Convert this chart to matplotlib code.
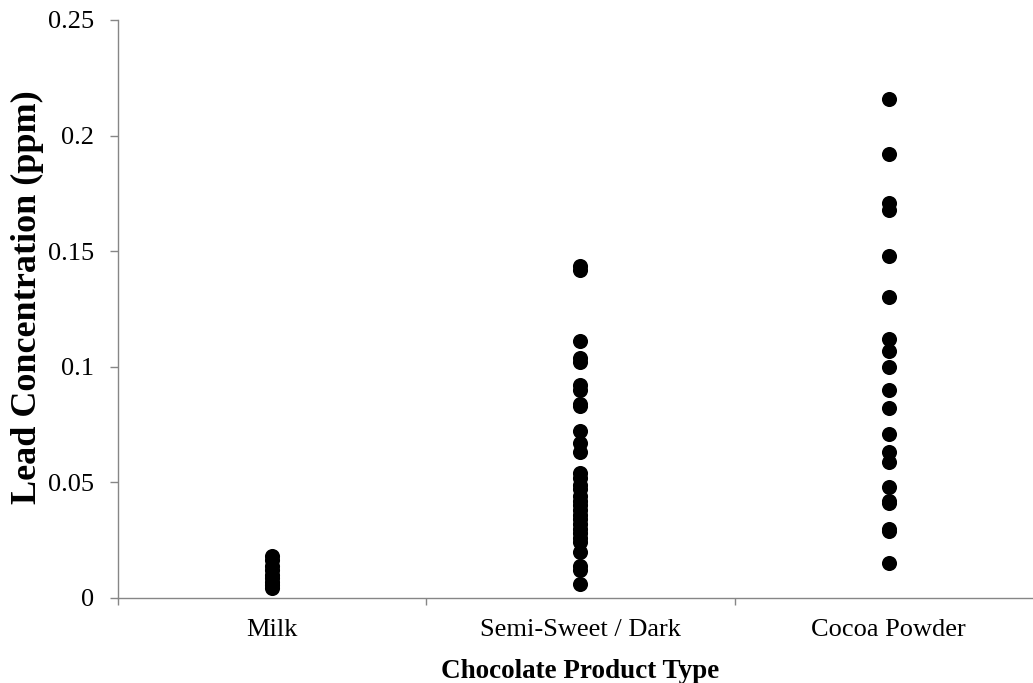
import matplotlib
matplotlib.use('Agg')
import matplotlib.pyplot as plt

categories = ['Milk', 'Semi-Sweet / Dark', 'Cocoa Powder']

milk = [0.018, 0.0165, 0.014, 0.012, 0.010, 0.0085, 0.007, 0.0055, 0.0045]
semi_sweet = [0.1435, 0.142, 0.111, 0.104, 0.102, 0.092, 0.090, 0.084, 0.083,
              0.072, 0.067, 0.063, 0.054, 0.052, 0.049, 0.047, 0.044, 0.042,
              0.040, 0.038, 0.036, 0.034, 0.032, 0.030, 0.028, 0.026, 0.024,
              0.020, 0.014, 0.012, 0.006]
cocoa = [0.216, 0.192, 0.171, 0.168, 0.148, 0.130, 0.112, 0.107, 0.100,
         0.090, 0.082, 0.071, 0.063, 0.059, 0.048, 0.042, 0.041, 0.030,
         0.029, 0.015]

series = [milk, semi_sweet, cocoa]
yticks = [0, 0.05, 0.1, 0.15, 0.2, 0.25]
ytick_labels = ['0', '0.05', '0.1', '0.15', '0.2', '0.25']

plt.rcParams['font.family'] = ['Liberation Serif', 'DejaVu Serif']
plt.rcParams['font.size'] = 19

fig = plt.figure(figsize=(10.33, 6.83), dpi=100)
ax = fig.add_axes([0.1142, 0.1245, 0.8955, 0.8463])

for i, vals in enumerate(series):
    ax.scatter([i + 1] * len(vals), vals, s=118, color='black', linewidths=0, zorder=3)

ax.set_xlim(0.5, 3.5)
ax.set_ylim(0, 0.25)
ax.set_xticks([1, 2, 3])
ax.set_xticklabels(categories)
ax.set_xticks([0.5, 1.5, 2.5, 3.5], minor=True)
ax.tick_params(axis='x', which='major', length=0, pad=15, labelsize=19)
ax.tick_params(axis='x', which='minor', length=5, color='#868686', width=1)
ax.set_yticks(yticks)
ax.set_yticklabels(ytick_labels)
ax.tick_params(axis='y', length=6, color='#868686', width=1, pad=11, labelsize=19)

for side in ['top', 'right']:
    ax.spines[side].set_visible(False)
for side in ['left', 'bottom']:
    ax.spines[side].set_color('#868686')
    ax.spines[side].set_linewidth(1)

ax.set_xlabel('Chocolate Product Type', fontsize=19.5, fontweight='bold', labelpad=13)
ax.set_ylabel('Lead Concentration (ppm)', fontsize=26, fontweight='bold')
ax.yaxis.set_label_coords(-0.080, 0.521)

fig.savefig('out.png', dpi=100)
